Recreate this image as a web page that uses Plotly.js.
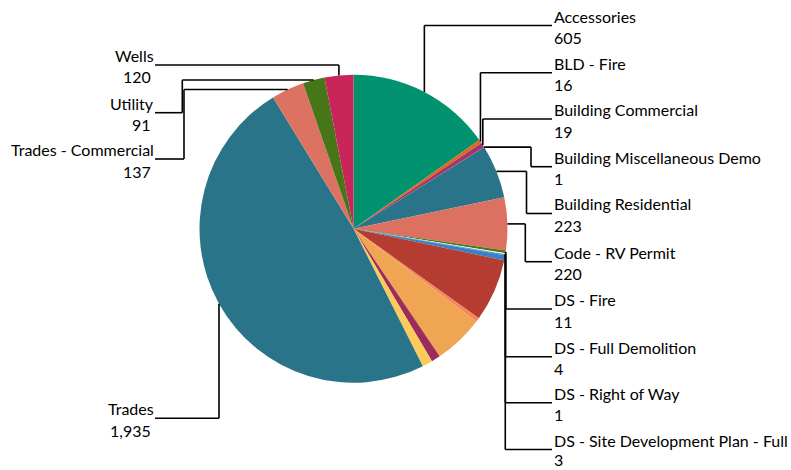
<!DOCTYPE html>
<html><head><meta charset="utf-8">
<script src="https://cdn.plot.ly/plotly-3.0.1.min.js"></script>
<style>html,body{margin:0;padding:0;background:#fff}#chart{width:791px;height:470px}</style>
</head><body><div id="chart"></div>
<script>
// ---- data ----
const categories = [
  "Accessories", "BLD - Fire", "Building Commercial", "Building Miscellaneous Demo",
  "Building Residential", "Code - RV Permit", "DS - Fire", "DS - Full Demolition",
  "DS - Right of Way", "DS - Site Development Plan - Full",
  "(unlabeled 1)", "(unlabeled 2)", "(unlabeled 3)", "(unlabeled 4)", "(unlabeled 5)", "(unlabeled 6)",
  "Trades", "Trades - Commercial", "Utility", "Wells"
];
const values = [605, 16, 19, 1, 223, 220, 11, 4, 1, 3, 22, 261, 17, 209, 37, 43, 1935, 137, 91, 120];
const colors = [
  "#01936f", "#e2661c", "#a23565", "#6c2b8a", "#2a7489", "#dd7161", "#4a7a16", "#f2f2f2",
  "#3a80c8", "#3a80c8", "#3a80c8", "#b43c30", "#f6875a", "#f0a552", "#9c2c5c", "#fdcb5b",
  "#2a7489", "#dc7262", "#467618", "#c8265a"
];

// ---- label placement (layout only) ----
const labelLayout = {
  "Accessories":                       {side: "right", lineY: 25.5,  route: "vertical"},
  "BLD - Fire":                        {side: "right", lineY: 72.7,  route: "vertical"},
  "Building Commercial":               {side: "right", lineY: 119.0, route: "vertical"},
  "Building Miscellaneous Demo":       {side: "right", lineY: 166.7, route: "elbow", elbowX: 531},
  "Building Residential":              {side: "right", lineY: 213.5, route: "elbow", elbowX: 526.5},
  "Code - RV Permit":                  {side: "right", lineY: 261.7, route: "elbow", elbowX: 525.3},
  "DS - Fire":                         {side: "right", lineY: 309.0, route: "vertical"},
  "DS - Full Demolition":              {side: "right", lineY: 356.7, route: "vertical"},
  "DS - Right of Way":                 {side: "right", lineY: 402.7, route: "vertical"},
  "DS - Site Development Plan - Full": {side: "right", lineY: 449.5, route: "vertical"},
  "Trades":                            {side: "left",  lineY: 418.3, route: "vertical"},
  "Trades - Commercial":               {side: "left",  lineY: 159.0, route: "elbow", elbowX: 184},
  "Utility":                           {side: "left",  lineY: 112.7, route: "elbow", elbowX: 182.3},
  "Wells":                             {side: "left",  lineY: 65.0,  route: "vertical"}
};

const W = 791, H = 470;
const cx = 353.5, cy = 228.7, R = 154;
const RIGHT_X = 553, LEFT_X = 155;
const FONT = {family: "Lato, 'Open Sans', sans-serif", size: 16, color: "#000"};

const px = x => x / W, py = y => 1 - y / H;
const total = values.reduce((a, b) => a + b, 0);
const shapes = [], annotations = [];
let cum = 0;
categories.forEach((c, i) => {
  const mid = (cum + values[i] / 2) / total * 2 * Math.PI;
  cum += values[i];
  const L = labelLayout[c];
  if (!L) return;
  const ax = cx + R * Math.sin(mid), ay = cy - R * Math.cos(mid);
  const endX = L.side === "right" ? RIGHT_X - 1 : LEFT_X;
  let pts;
  if (L.route === "vertical") pts = [[ax, ay], [ax, L.lineY], [endX, L.lineY]];
  else pts = [[ax, ay], [L.elbowX, ay], [L.elbowX, L.lineY], [endX, L.lineY]];
  for (let k = 0; k < pts.length - 1; k++) {
    shapes.push({type: "line", xref: "paper", yref: "paper",
      x0: px(pts[k][0]), y0: py(pts[k][1]), x1: px(pts[k + 1][0]), y1: py(pts[k + 1][1]),
      line: {color: "#000", width: 1.6}});
  }
  const tx = L.side === "right" ? RIGHT_X : LEFT_X;
  const xa = L.side === "right" ? "left" : "right";
  annotations.push({xref: "paper", yref: "paper", x: px(tx), y: py(L.lineY - 9.5),
    xanchor: xa, yanchor: "middle", text: c, showarrow: false, font: FONT, borderpad: 0});
  const vy = Math.min(L.lineY + 12, H - 11);
  annotations.push({xref: "paper", yref: "paper", x: px(L.side === "right" ? tx : tx - 3), y: py(vy),
    xanchor: xa, yanchor: "middle", text: values[i].toLocaleString("en-US"), showarrow: false, font: FONT, borderpad: 0});
});

const trace = {
  type: "pie", labels: categories, values: values, sort: false, direction: "clockwise", rotation: 0,
  marker: {colors: colors, line: {width: 0}}, textinfo: "none", hoverinfo: "label+value",
  domain: {x: [px(cx - R), px(cx + R)], y: [py(cy + R), py(cy - R)]}
};

Plotly.newPlot("chart", [trace], {
  width: W, height: H, margin: {l: 0, r: 0, t: 0, b: 0}, showlegend: false,
  paper_bgcolor: "#fff", shapes: shapes, annotations: annotations
}, {displayModeBar: false, staticPlot: true});
</script></body></html>
